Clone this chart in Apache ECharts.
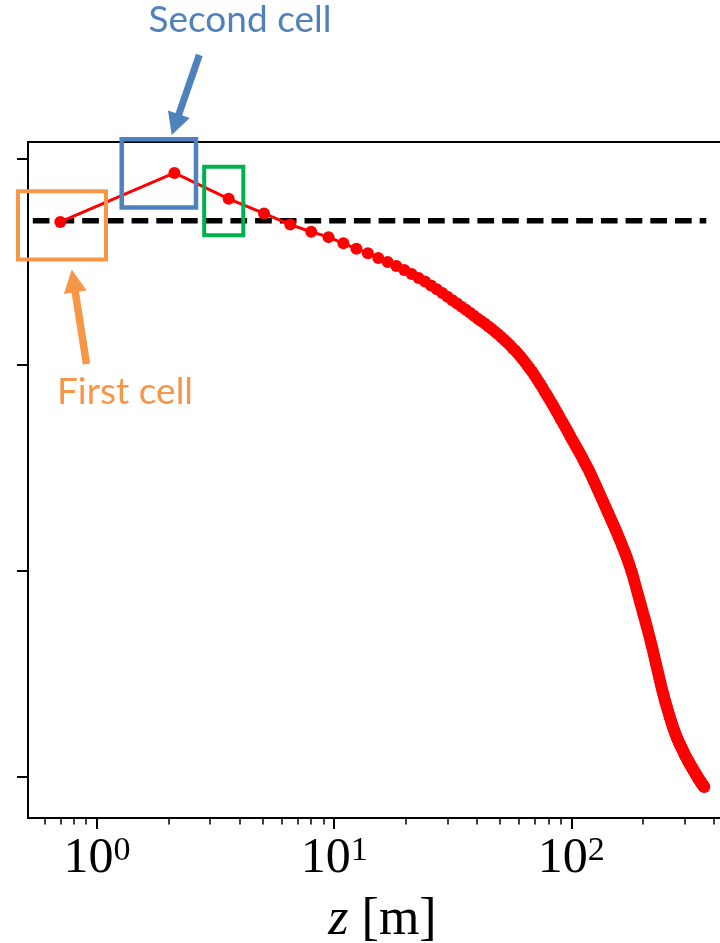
<!DOCTYPE html>
<html>
<head>
<meta charset="utf-8">
<script src="https://cdn.jsdelivr.net/npm/echarts@6.0.0/dist/echarts.min.js"></script>
<style>
html,body{margin:0;padding:0;background:#fff;}
#chart{width:720px;height:943px;}
</style>
</head>
<body>
<div id="chart"></div>
<script>
// ---- data ----
const zValues = [0.70,2.12,3.59,5.06,6.53,8.00,9.47,10.94,12.41,13.88,15.35,16.82,18.29,19.76,21.23,22.70,24.17,25.64,27.11,28.58,30.05,31.52,32.99,34.46,35.93,37.40,38.87,40.34,41.81,43.28,44.75,46.22,47.69,49.16,50.63,52.10,53.57,55.04,56.51,57.98,59.45,60.92,62.39,63.86,65.33,66.80,68.27,69.74,71.21,72.68,74.15,75.62,77.09,78.56,80.03,81.50,82.97,84.44,85.91,87.38,88.85,90.32,91.79,93.26,94.73,96.20,97.67,99.14,100.61,102.08,103.55,105.02,106.49,107.96,109.43,110.90,112.37,113.84,115.31,116.78,118.25,119.72,121.19,122.66,124.13,125.60,127.07,128.54,130.01,131.48,132.95,134.42,135.89,137.36,138.83,140.30,141.77,143.24,144.71,146.18,147.65,149.12,150.59,152.06,153.53,155.00,156.47,157.94,159.41,160.88,162.35,163.82,165.29,166.76,168.23,169.70,171.17,172.64,174.11,175.58,177.05,178.52,179.99,181.46,182.93,184.40,185.87,187.34,188.81,190.28,191.75,193.22,194.69,196.16,197.63,199.10,200.57,202.04,203.51,204.98,206.45,207.92,209.39,210.86,212.33,213.80,215.27,216.74,218.21,219.68,221.15,222.62,224.09,225.56,227.03,228.50,229.97,231.44,232.91,234.38,235.85,237.32,238.79,240.26,241.73,243.20,244.67,246.14,247.61,249.08,250.55,252.02,253.49,254.96,256.43,257.90,259.37,260.84,262.31,263.78,265.25,266.72,268.19,269.66,271.13,272.60,274.07,275.54,277.01,278.48,279.95,281.42,282.89,284.36,285.83,287.30,288.77,290.24,291.71,293.18,294.65,296.12,297.59,299.06,300.53,302.00,303.47,304.94,306.41,307.88,309.35,310.82,312.29,313.76,315.23,316.70,318.17,319.64,321.11,322.58,324.05,325.52,326.99,328.46,329.93,331.40,332.87,334.34,335.81,337.28,338.75,340.22,341.69,343.16,344.63,346.10,347.57,349.04,350.51,351.98,353.45,354.92,356.39,357.86,359.33,360.80,362.27,363.74];
const yValues = [2.695,2.933,2.807,2.736,2.682,2.647,2.621,2.591,2.565,2.543,2.520,2.500,2.481,2.461,
2.442,2.423,2.405,2.386,2.368,2.350,
2.331,2.315,2.299,2.283,2.268,2.254,2.239,
2.225,2.212,2.200,2.187,2.175,2.162,2.149,
2.136,2.123,2.110,2.097,2.083,2.070,2.057,
2.043,2.028,2.013,1.998,1.983,1.968,1.953,
1.937,1.921,1.905,1.889,1.873,1.858,
1.842,1.827,1.812,1.797,1.782,1.767,1.752,
1.737,1.723,1.709,1.695,1.681,1.667,1.653,
1.640,1.627,1.615,1.602,1.590,1.577,1.565,
1.553,1.540,1.528,1.516,1.504,1.492,1.479,
1.466,1.453,1.440,1.427,1.414,1.401,
1.388,1.376,1.364,1.351,1.339,1.327,1.315,
1.303,1.291,1.280,1.269,1.257,1.246,1.235,
1.224,1.213,1.202,1.191,1.180,1.168,1.157,
1.146,1.135,1.124,1.113,1.102,1.091,1.080,
1.068,1.056,1.043,1.031,1.019,1.006,0.994,
0.980,0.965,0.951,0.936,0.922,0.908,
0.893,0.880,0.866,0.852,0.839,0.825,0.811,
0.798,0.785,0.772,0.759,0.746,0.733,0.719,
0.706,0.693,0.679,0.666,0.652,0.639,0.625,
0.611,0.597,0.583,0.569,0.555,0.541,0.527,
0.514,0.500,0.487,0.474,0.460,0.447,
0.434,0.423,0.411,0.400,0.389,0.377,0.366,
0.355,0.345,0.336,0.326,0.316,0.306,0.296,
0.287,0.278,0.270,0.261,0.252,0.244,0.235,
0.228,0.221,0.213,0.206,0.199,0.192,0.185,
0.180,0.174,0.168,0.163,0.157,0.152,
0.146,0.141,0.136,0.130,0.125,0.120,0.114,
0.109,0.105,0.100,0.096,0.091,0.087,0.082,
0.078,0.074,0.069,0.065,0.061,0.057,0.053,
0.049,0.045,0.041,0.038,0.034,0.030,0.026,
0.023,0.019,0.015,0.012,0.008,0.004,
0.001,-0.003,-0.006,-0.010,-0.013,-0.016,-0.020,
-0.023,-0.026,-0.029,-0.032,-0.035,-0.038,-0.041,-0.044,-0.047,-0.049];
const refLineZ = [0.5115, 371];
const refLineLevel = 2.7;
const xMin = 0.5115, xMax = 500;
const yMin = -0.2, yMax = 3.083;
const xMajorTicks = [1, 10, 100];
const xMajorExponents = ['0', '1', '2'];
const xMinorTicks = [0.6,0.7,0.8,0.9,2,3,4,5,6,7,8,9,20,30,40,50,60,70,80,90,200,300,400];
const yTicks = [0, 1, 2, 3];
const xAxisName = ['z', '[m]'];
const annotationTexts = ['Second cell', 'First cell'];

// ---- chart ----
const chart = echarts.init(document.getElementById('chart'), null, {renderer: 'canvas'});
const seriesData = zValues.map((z, i) => [z, yValues[i]]);
const refData = refLineZ.map(z => [z, refLineLevel]);
const SERIF = '"Liberation Serif", "DejaVu Serif", serif';
const ORANGE = '#F79646', BLUE = '#4F81BD', GREEN = '#00B050';

function arrow(sx, sy, tx, ty, headLen, headW, shaftW, color) {
  const dx = tx - sx, dy = ty - sy, L = Math.hypot(dx, dy);
  const ux = dx / L, uy = dy / L, nx = -uy, ny = ux;
  const bx = tx - headLen * ux, by = ty - headLen * uy;
  return [
    {type: 'line', shape: {x1: sx, y1: sy, x2: bx + ux, y2: by + uy},
     style: {stroke: color, lineWidth: shaftW, lineCap: 'butt'}, z: 100},
    {type: 'polygon', shape: {points: [[tx, ty], [bx + nx * headW / 2, by + ny * headW / 2], [bx - nx * headW / 2, by - ny * headW / 2]]},
     style: {fill: color}, z: 100}
  ];
}

const graphics = [
  {type: 'rect', shape: {x: 18, y: 191.3, width: 88, height: 68.2}, style: {fill: 'none', stroke: ORANGE, lineWidth: 4}, z: 100},
  {type: 'rect', shape: {x: 121.7, y: 139.2, width: 74.3, height: 68.3}, style: {fill: 'none', stroke: BLUE, lineWidth: 4.5}, z: 100},
  {type: 'rect', shape: {x: 204.2, y: 166.8, width: 39.1, height: 68.4}, style: {fill: 'none', stroke: GREEN, lineWidth: 4}, z: 100},
  ...arrow(199.3, 55, 171.7, 135, 22, 23, 7, BLUE),
  ...arrow(86.5, 364, 71.7, 269.5, 23, 23, 7.5, ORANGE),
  {type: 'text', style: {text: annotationTexts[0], x: 240, y: 20.5, fill: BLUE, font: '37px Lato', align: 'center', verticalAlign: 'middle'}, z: 100},
  {type: 'text', style: {text: annotationTexts[1], x: 125, y: 392.5, fill: ORANGE, font: '37px Lato', align: 'center', verticalAlign: 'middle'}, z: 100}
];

const option = {
  animation: false,
  backgroundColor: '#fff',
  grid: {left: 28, top: 142, right: -17, bottom: 125, containLabel: false, outerBoundsMode: 'none',
         show: true, borderColor: '#000', borderWidth: 2, backgroundColor: 'transparent'},
  xAxis: [
    {
      type: 'log', logBase: 10, min: xMin, max: xMax, position: 'bottom',
      axisLine: {show: true, onZero: false, lineStyle: {color: '#000', width: 2}},
      axisTick: {show: true, customValues: xMajorTicks, length: 11, lineStyle: {color: '#000', width: 2}},
      minorTick: {show: false},
      splitLine: {show: false},
      axisLabel: {
        show: true, customValues: xMajorTicks, margin: 16, hideOverlap: false,
        formatter: function (v) {
          const idx = xMajorTicks.indexOf(v);
          const e = idx >= 0 ? xMajorExponents[idx] : String(Math.round(Math.log10(v)));
          return '{b|10}{s|' + e + '}';
        },
        rich: {
          b: {fontFamily: SERIF, fontSize: 50, lineHeight: 50, color: '#000'},
          s: {fontFamily: SERIF, fontSize: 34, lineHeight: 22, verticalAlign: 'top', color: '#000'}
        }
      },
      name: '{i|' + xAxisName[0] + '}{n| ' + xAxisName[1] + '}',
      nameLocation: 'middle', nameGap: 76,
      nameTextStyle: {
        fontFamily: SERIF, fontSize: 52, color: '#000',
        rich: {
          i: {fontFamily: SERIF, fontStyle: 'italic', fontSize: 52, lineHeight: 52, color: '#000'},
          n: {fontFamily: SERIF, fontSize: 52, lineHeight: 52, color: '#000'}
        }
      }
    },
    {
      type: 'log', logBase: 10, min: xMin, max: xMax, position: 'bottom', gridIndex: 0,
      axisLine: {show: false, onZero: false},
      axisTick: {show: true, customValues: xMinorTicks, length: 6.5, lineStyle: {color: '#000', width: 1.5}},
      axisLabel: {show: false},
      splitLine: {show: false}
    }
  ],
  yAxis: {
    type: 'value', min: yMin, max: yMax,
    axisLine: {show: true, onZero: false, lineStyle: {color: '#000', width: 2}},
    axisTick: {show: true, customValues: yTicks, length: 11, lineStyle: {color: '#000', width: 2}},
    axisLabel: {show: false},
    splitLine: {show: false}
  },
  series: [
    {
      type: 'line', data: refData, xAxisIndex: 0, showSymbol: false, symbol: 'none', silent: true,
      lineStyle: {color: '#000', width: 5.5, type: [16.7, 8], dashOffset: 19.9, cap: 'butt'},
      z: 2
    },
    {
      type: 'line', data: seriesData, xAxisIndex: 0, symbol: 'circle', symbolSize: 12, showSymbol: true, showAllSymbol: true,
      itemStyle: {color: '#ff0000'},
      lineStyle: {color: '#ff0000', width: 3},
      z: 3
    }
  ],
  graphic: graphics
};
chart.setOption(option);
</script>
</body>
</html>
